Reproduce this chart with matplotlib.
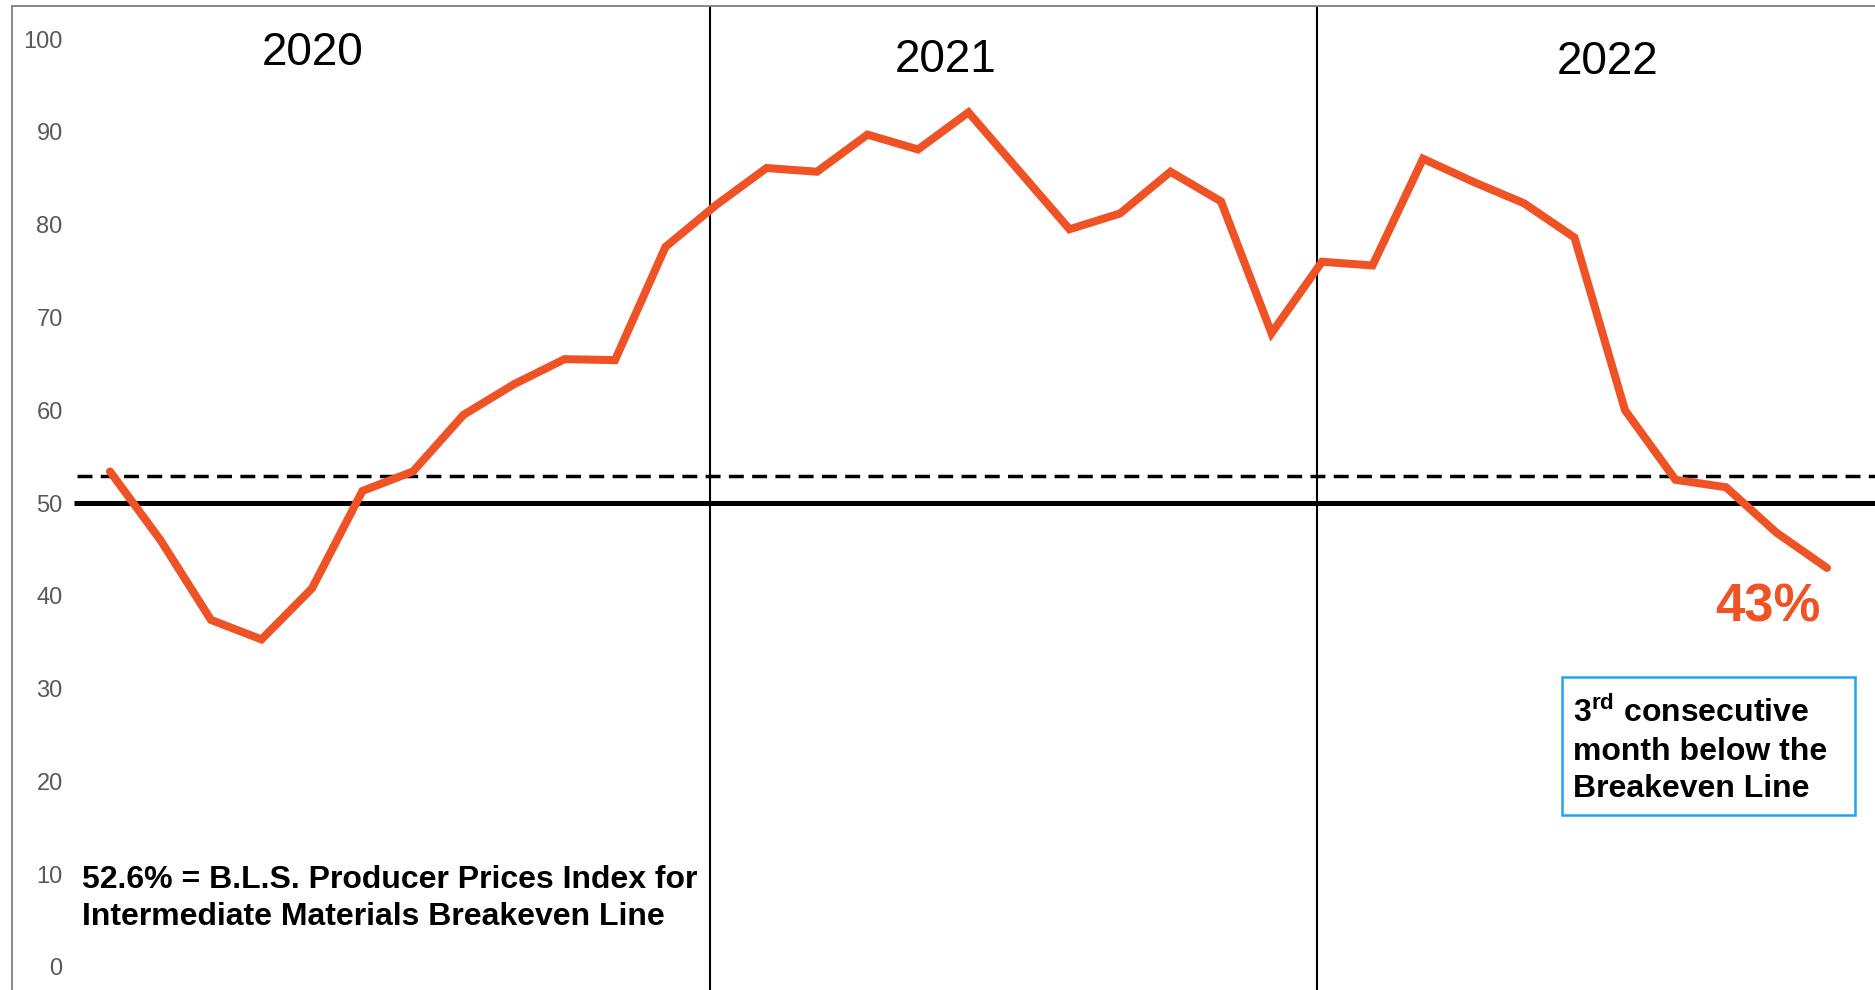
import numpy as np
import matplotlib.pyplot as plt
from matplotlib.patches import Rectangle

plt.rcParams['font.family'] = ['Liberation Sans', 'DejaVu Sans']
plt.rcParams['mathtext.fontset'] = 'custom'
plt.rcParams['mathtext.rm'] = 'Liberation Sans'
plt.rcParams['mathtext.bf'] = 'Liberation Sans:bold'

# monthly index, Jan 2020 .. Nov 2022
values = [53.4, 46.0, 37.4, 35.3, 40.8, 51.3, 53.4, 59.5, 62.8, 65.5, 65.4, 77.6,
          82.1, 86.1, 85.7, 89.7, 88.1, 92.1, 85.8, 79.5, 81.2, 85.7, 82.5, 68.3,
          76.0, 75.6, 87.1, 84.6, 82.3, 78.6, 60.0, 52.5, 51.7, 46.8, 43.0]
years = ["2020", "2021", "2022"]
breakeven = 52.9
ref_line = 50
y_ticks = [0, 10, 20, 30, 40, 50, 60, 70, 80, 90, 100]
last_label = "43%"
note_left = "52.6% = B.L.S. Producer Prices Index for\nIntermediate Materials Breakeven Line"
note_box = "3$^{\\mathbf{rd}}$ consecutive\nmonth below the\nBreakeven Line"

ORANGE = "#EF5325"
GRAY = "#808080"

x = np.arange(len(values))

fig = plt.figure(figsize=(18.75, 9.9), dpi=100)
ax = fig.add_axes([12 / 1875, 0, 1 - 12 / 1875, 984 / 990])
ax.set_xlim(-1.94, 34.95)
ax.set_ylim(-2.48, 103.56)

for side in ["right", "bottom"]:
    ax.spines[side].set_visible(False)
for side in ["left", "top"]:
    ax.spines[side].set_color(GRAY)
    ax.spines[side].set_linewidth(1.3)

ax.set_xticks([])
ax.set_yticks(y_ticks)
ax.set_yticklabels([str(t) for t in y_ticks])
ax.tick_params(axis="y", length=0, pad=-36.5, labelsize=17, labelcolor="#595959")

# year dividers
for xv in [11.88, 23.9]:
    ax.axvline(xv, color="black", lw=1.5, zorder=2)

ax.plot([-0.71, 34.95], [ref_line, ref_line], color="black", lw=3.6, zorder=2,
        solid_capstyle="butt")
ax.plot([-0.65, 34.95], [breakeven, breakeven], color="black", lw=2.5, zorder=2,
        linestyle=(0, (4.3, 2.4)))

ax.plot(x, values, color=ORANGE, lw=5.8, solid_joinstyle="miter",
        solid_capstyle="round", zorder=3)

for label, xp, yp in zip(years, [4.02, 16.55, 29.66], [97.2, 96.4, 96.2]):
    ax.text(xp, yp, label, fontsize=33, ha="center", va="baseline", color="black")

# multi-line text: baseline refers to the last line
ax.text(-0.55, 4.5, note_left, fontsize=23, fontweight="bold", ha="left",
        va="baseline", linespacing=1.33)

ax.text(32.83, 37.2, last_label, fontsize=38, fontweight="bold", color=ORANGE,
        ha="center", va="baseline")

ax.add_patch(Rectangle((28.75, 16.4), 5.81, 14.85, fill=False,
                       edgecolor="#1EA5EE", lw=1.8, zorder=4))
ax.text(28.97, 18.3, note_box, fontsize=23, fontweight="bold", ha="left",
        va="baseline", linespacing=1.33, zorder=5)

fig.savefig("out.png", dpi=100)
